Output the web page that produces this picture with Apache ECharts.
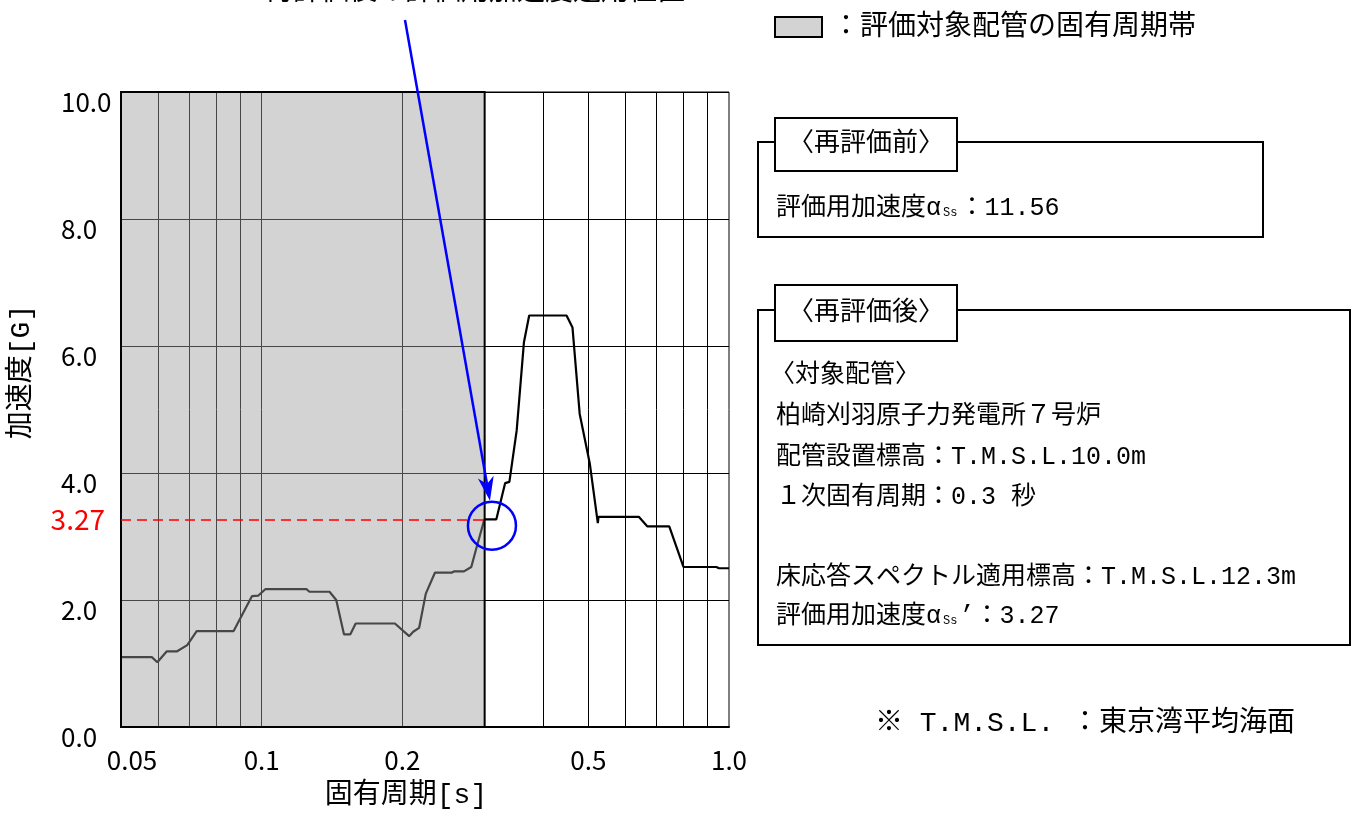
<!DOCTYPE html>
<html><head><meta charset="utf-8">
<script src="https://cdn.jsdelivr.net/npm/echarts@6/dist/echarts.min.js"></script>
<style>html,body{margin:0;padding:0;background:#fff}#c{width:1355px;height:814px}</style>
</head><body><div id="c"></div>
<script>
// ---- data ----
const periods = [0.05, 0.0582, 0.0598, 0.0626, 0.0658, 0.0693, 0.0726, 0.0871, 0.0953, 0.0984,
  0.1018, 0.1248, 0.1265, 0.1397, 0.1444, 0.1500, 0.1548, 0.1589, 0.1928, 0.2068,
  0.2110, 0.2172, 0.2245, 0.2348, 0.2549, 0.2578, 0.2709, 0.2809, 0.2871, 0.2996,
  0.3178, 0.3318, 0.3389, 0.3513, 0.3641, 0.3736, 0.4491, 0.4625, 0.4792, 0.5036,
  0.5240, 0.5257, 0.6412, 0.6683, 0.7450, 0.7990, 0.9398, 0.9516, 1.0];
const accel = [1.10, 1.10, 1.02, 1.19, 1.19, 1.29, 1.51, 1.51, 2.06, 2.07,
  2.17, 2.17, 2.13, 2.13, 2.00, 1.46, 1.46, 1.63, 1.63, 1.43,
  1.50, 1.56, 2.10, 2.43, 2.43, 2.45, 2.45, 2.52, 2.78, 3.27,
  3.27, 3.84, 3.86, 4.67, 6.06, 6.48, 6.48, 6.29, 4.93, 4.15,
  3.21, 3.31, 3.31, 3.16, 3.16, 2.52, 2.52, 2.50, 2.50];
const gridPeriods = [0.06, 0.07, 0.08, 0.09, 0.1, 0.2, 0.3, 0.4, 0.5, 0.6, 0.7, 0.8, 0.9];
const xTickValues = [0.05, 0.1, 0.2, 0.5, 1.0];
const xTickLabels = ['0.05', '0.1', '0.2', '0.5', '1.0'];
const bandRange = [0.05, 0.3];
const evalPeriod = 0.3;
const evalAccel = 3.27;
const circleCenter = [0.311, 3.17];

const JP = "'Liberation Mono', 'Noto Sans CJK JP', sans-serif";
const NUM = "'Noto Sans CJK JP', sans-serif";

const chart = echarts.init(document.getElementById('c'), null, {renderer: 'canvas'});

const option = {
  animation: false,
  backgroundColor: '#fff',
  grid: {left: 121, right: 626, top: 92, bottom: 87, show: true, borderColor: '#000', borderWidth: 1, backgroundColor: 'transparent'},
  xAxis: {
    type: 'log', logBase: 10, min: 0.05, max: 1.0,
    axisLine: {show: true, lineStyle: {color: '#000', width: 2}},
    axisTick: {show: false}, axisLabel: {show: false}, splitLine: {show: false}
  },
  yAxis: {
    type: 'value', min: 0, max: 10, interval: 2,
    axisLine: {show: true, lineStyle: {color: '#000', width: 2}},
    axisTick: {show: false},
    axisLabel: {formatter: v => v.toFixed(1), fontFamily: NUM, fontSize: 26, color: '#000', align: 'left', margin: 60, verticalAlign: 'top', padding: [-3, 0, 0, 0]},
    splitLine: {show: true, lineStyle: {color: '#000', width: 1}}
  },
  series: [
    { // vertical grid lines on log scale
      type: 'line', data: [], silent: true,
      markLine: {z: 1, silent: true, symbol: 'none', animation: false,
        emphasis: {disabled: true},
        label: {show: false}, lineStyle: {color: '#000', width: 1, type: 'solid'},
        data: gridPeriods.map(v => ({xAxis: v}))}
    },
    { // x tick labels
      type: 'line', data: [], silent: true,
      markLine: {z: 1, silent: true, symbol: 'none', animation: false,
        emphasis: {disabled: true},
        lineStyle: {color: 'rgba(0,0,0,0)', width: 0, opacity: 1},
        label: {show: true, position: 'start', distance: 20, formatter: '{b}', fontFamily: NUM, fontSize: 26, color: '#000', opacity: 1},
        data: xTickValues.map((v, i) => i === 0
          ? {xAxis: v, name: xTickLabels[i], label: {padding: [0, 0, 0, 22]}}
          : {xAxis: v, name: xTickLabels[i]})}
    },
    { // response spectrum
      type: 'line', z: 2, silent: true, symbol: 'none', showSymbol: false,
      lineStyle: {color: '#000', width: 2.2},
      data: periods.map((p, i) => [p, accel[i]])
    },
    { // natural period band
      type: 'line', data: [], silent: true,
      markArea: {z: 6, silent: true, emphasis: {disabled: true},
        itemStyle: {color: 'rgba(157,157,157,0.45)', borderColor: '#000', borderWidth: 2},
        data: [[{xAxis: bandRange[0]}, {xAxis: bandRange[1]}]]}
    },
    { // evaluation acceleration line
      type: 'line', data: [], silent: true,
      markLine: {z: 7, silent: true, symbol: 'none', animation: false,
        emphasis: {disabled: true},
        lineStyle: {color: '#ff0000', width: 1.5, type: [10, 6]},
        label: {show: true, position: 'start', distance: 16, formatter: evalAccel.toFixed(2), color: '#ff0000', fontFamily: NUM, fontSize: 28},
        data: [[{coord: [bandRange[0], evalAccel]}, {coord: [evalPeriod, evalAccel]}]]}
    }
  ]
};
chart.setOption(option);

// ---- annotations ----
const c = chart.convertToPixel({gridIndex: 0}, circleCenter);
const R = 24;
const tip = [c[0] - 2, c[1] - R - 1];
const start = [405, 20];
const dx = tip[0] - start[0], dy = tip[1] - start[1];
const len = Math.hypot(dx, dy);
const ux = dx / len, uy = dy / len, px = -uy, py = ux;
const HL = 24, HW = 8, NOTCH = 17;
const base = [tip[0] - HL * ux, tip[1] - HL * uy];
const notch = [tip[0] - NOTCH * ux, tip[1] - NOTCH * uy];

const txt = (x, y, text, size, extra) => Object.assign({
  type: 'text', x: x, y: y, z: 100,
  style: Object.assign({text: text, font: size + 'px ' + JP, fill: '#000', align: 'left', verticalAlign: 'middle'}, (extra || {}))
});
const rect = (x, y, w, h, fill, lw) => ({
  type: 'rect', z: 99, shape: {x: x, y: y, width: w, height: h},
  style: {fill: fill, stroke: '#000', lineWidth: lw}
});
const alphaText = (x, y, value) => ({
  type: 'text', x: x, y: y, z: 100,
  style: {
    text: '{a|評価用加速度α}{s|Ss}{a|' + value + '}',
    align: 'left', verticalAlign: 'middle',
    rich: {
      a: {fontFamily: JP, fontSize: 25, fill: '#000', color: '#000'},
      s: {fontFamily: JP, fontSize: 12, fill: '#000', color: '#000', padding: [10, 2, 0, 2]}
    }
  }
});

const graphics = [
  {type: 'circle', z: 100, shape: {cx: c[0], cy: c[1], r: R}, style: {fill: 'none', stroke: '#0000ff', lineWidth: 2.5}},
  {type: 'line', z: 100, shape: {x1: start[0], y1: start[1], x2: notch[0], y2: notch[1]}, style: {stroke: '#0000ff', lineWidth: 2.5}},
  {type: 'polygon', z: 100, shape: {points: [tip, [base[0] + HW * px, base[1] + HW * py], notch, [base[0] - HW * px, base[1] - HW * py]]}, style: {fill: '#0000ff'}},
  txt(475, -7, '再評価後の評価用加速度適用位置', 28, {align: 'center'}),
  // legend
  rect(775, 17, 47, 20, '#d3d3d3', 2),
  txt(832, 28, '：評価対象配管の固有周期帯', 28),
  // box 1
  rect(758, 142, 505, 95, '#fff', 2),
  rect(775, 118, 182, 53, '#fff', 2),
  txt(866, 144, '〈再評価前〉', 26, {align: 'center'}),
  alphaText(776, 208, '：11.56'),
  // box 2
  rect(758, 310, 592, 335, '#fff', 2),
  rect(775, 285, 182, 56, '#fff', 2),
  txt(866, 313, '〈再評価後〉', 26, {align: 'center'}),
  txt(770, 375, '〈対象配管〉', 25),
  txt(776, 416, '柏崎刈羽原子力発電所７号炉', 25),
  txt(776, 457, '配管設置標高：T.M.S.L.10.0m', 25),
  txt(776, 497, '１次固有周期：0.3 秒', 25),
  txt(776, 577, '床応答スペクトル適用標高：T.M.S.L.12.3m', 25),
  alphaText(776, 616, '’：3.27'),
  // footnote
  txt(875, 724, '※ T.M.S.L. ：東京湾平均海面', 28),
  // axis names
  txt(406, 796, '固有周期[s]', 28, {align: 'center'}),
  {type: 'text', z: 100, x: 22, y: 372, rotation: Math.PI / 2,
   style: {text: '加速度[G]', font: '28px ' + JP, fill: '#000', align: 'center', verticalAlign: 'middle'}}
];
chart.setOption({graphic: graphics});
</script>
</body></html>
